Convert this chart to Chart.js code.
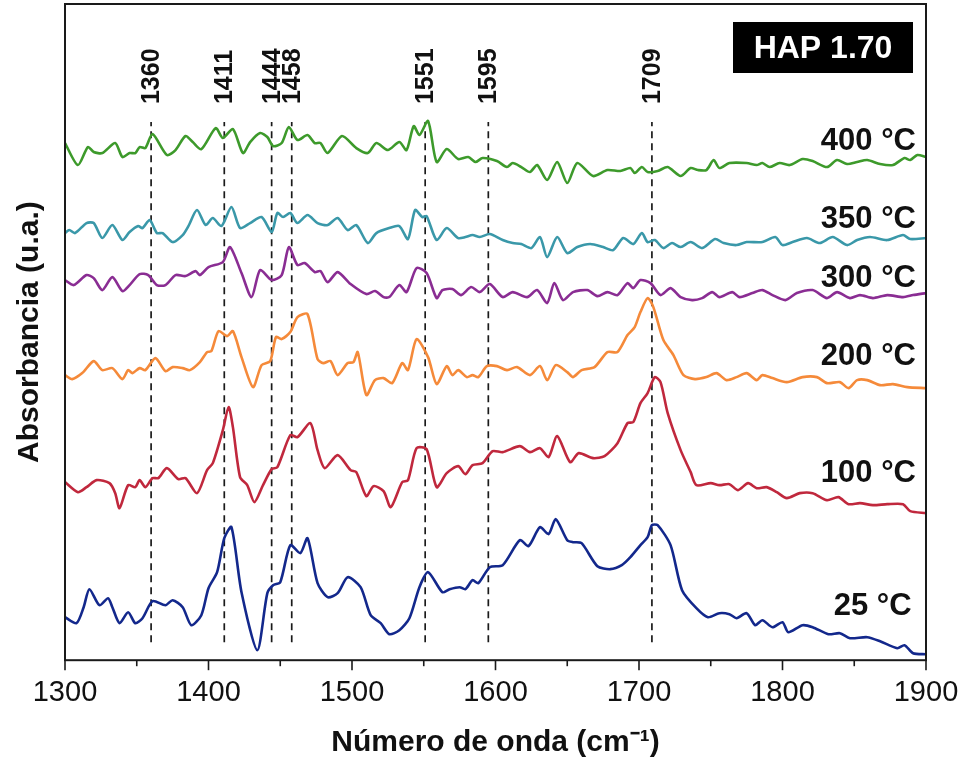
<!DOCTYPE html>
<html>
<head>
<meta charset="utf-8">
<script src="https://cdn.jsdelivr.net/npm/chart.js@4.4.1/dist/chart.umd.min.js"></script>
<style>
  html, body { margin: 0; padding: 0; background: #fff; }
  #wrap { width: 965px; height: 761px; }
</style>
</head>
<body>
<div id="wrap"><canvas id="spec" width="965" height="761" role="img" aria-label="Espectros FTIR de HAP 1.70 a 25, 100, 200, 300, 350 y 400 °C entre 1300 y 1900 cm-1"></canvas></div>
<script>
// wavenumber (cm-1) / absorbance (u.a., stacked offsets)
const wn400 = [1300,1309,1316,1320,1326,1335,1340,1345,1349,1352,1356,1361,1371,1377,1384,1389,1395,1405,1410,1417,1424,1429,1436,1441,1445,1451,1456,1462,1469,1474,1478,1483,1493,1503,1511,1517,1525,1533,1538,1543,1547,1553,1559,1566,1574,1581,1586,1591,1601,1608,1612,1618,1624,1629,1636,1643,1650,1657,1668,1678,1687,1694,1697,1702,1706,1713,1720,1729,1736,1741,1747,1752,1756,1763,1775,1782,1786,1791,1798,1805,1814,1821,1831,1838,1845,1852,1859,1868,1877,1885,1889,1894,1900]
const abs400 = [5.17,4.95,5.13,5.08,5.07,5.17,5.03,5.07,5.07,5.13,5.12,5.26,5.05,5.10,5.24,5.18,5.11,5.32,5.22,5.31,5.07,5.18,5.27,5.23,5.14,5.17,5.33,5.20,5.25,5.17,5.17,5.07,5.24,5.12,5.07,5.17,5.10,5.18,5.10,5.34,5.25,5.39,4.98,5.11,5.01,5.03,4.98,5.02,4.99,4.93,4.97,4.93,4.88,4.95,4.80,4.98,4.77,4.97,4.84,4.90,4.89,4.92,4.87,4.93,4.88,4.89,4.93,4.84,4.92,4.90,4.90,5.00,4.92,4.97,4.97,4.95,4.97,4.93,4.97,4.95,5.01,4.99,4.93,5.00,4.96,4.98,5.00,4.96,4.95,5.02,5.00,5.05,5.03]

const wn350 = [1300,1303,1307,1315,1320,1326,1333,1340,1345,1351,1354,1359,1364,1368,1375,1382,1386,1392,1398,1403,1409,1416,1422,1429,1437,1444,1448,1452,1457,1462,1469,1476,1483,1490,1497,1503,1511,1517,1526,1533,1539,1544,1549,1552,1559,1566,1574,1579,1584,1589,1596,1605,1612,1618,1625,1631,1636,1643,1650,1657,1666,1675,1682,1689,1696,1702,1706,1711,1717,1723,1729,1736,1744,1753,1759,1768,1775,1786,1795,1800,1807,1817,1826,1835,1845,1852,1861,1873,1884,1889,1900]
const abs350 = [4.27,4.30,4.27,4.37,4.37,4.22,4.35,4.20,4.28,4.34,4.32,4.40,4.27,4.27,4.18,4.25,4.34,4.50,4.35,4.42,4.34,4.53,4.32,4.37,4.43,4.28,4.47,4.43,4.47,4.37,4.45,4.37,4.35,4.42,4.30,4.35,4.17,4.27,4.32,4.34,4.21,4.50,4.43,4.44,4.20,4.32,4.22,4.23,4.25,4.23,4.26,4.20,4.17,4.16,4.12,4.23,4.03,4.23,4.07,4.13,4.16,4.13,4.10,4.22,4.16,4.27,4.18,4.20,4.12,4.17,4.13,4.18,4.12,4.21,4.17,4.15,4.18,4.18,4.23,4.15,4.18,4.22,4.17,4.23,4.15,4.20,4.23,4.20,4.25,4.21,4.22]

const wn300 = [1300,1306,1315,1320,1326,1333,1340,1345,1352,1358,1364,1370,1377,1384,1391,1394,1400,1410,1415,1423,1430,1436,1444,1451,1456,1462,1467,1474,1478,1483,1490,1499,1510,1516,1522,1526,1533,1538,1545,1552,1559,1563,1570,1576,1583,1589,1596,1605,1612,1622,1629,1636,1641,1647,1654,1664,1671,1678,1685,1692,1696,1701,1708,1715,1722,1729,1737,1744,1751,1756,1765,1770,1779,1786,1793,1802,1810,1821,1831,1838,1847,1854,1863,1873,1884,1891,1900]
const abs300 = [3.80,3.75,3.85,3.82,3.70,3.83,3.69,3.75,3.86,3.85,3.75,3.75,3.85,3.84,3.89,3.85,3.93,3.98,4.13,3.87,3.63,3.90,3.80,3.85,4.13,3.95,3.97,3.88,3.89,3.78,3.88,3.76,3.66,3.69,3.63,3.63,3.75,3.68,3.92,3.87,3.62,3.70,3.71,3.65,3.73,3.68,3.76,3.63,3.68,3.63,3.70,3.57,3.77,3.60,3.68,3.70,3.64,3.68,3.65,3.77,3.72,3.80,3.77,3.65,3.72,3.63,3.60,3.62,3.68,3.63,3.68,3.63,3.67,3.70,3.65,3.60,3.67,3.70,3.62,3.68,3.62,3.65,3.62,3.65,3.63,3.65,3.67]

const wn200 = [1300,1305,1312,1320,1326,1333,1340,1344,1347,1352,1356,1363,1370,1375,1382,1387,1394,1399,1402,1407,1413,1417,1423,1431,1437,1443,1447,1451,1457,1462,1469,1476,1480,1485,1490,1497,1501,1504,1510,1516,1522,1528,1535,1539,1545,1553,1559,1566,1570,1574,1580,1584,1588,1594,1601,1608,1615,1624,1631,1636,1642,1650,1654,1660,1669,1678,1685,1692,1697,1701,1706,1710,1717,1724,1731,1739,1747,1754,1761,1768,1775,1782,1786,1793,1803,1814,1824,1831,1840,1846,1852,1859,1868,1877,1887,1900]
const abs200 = [2.85,2.81,2.87,2.99,2.90,2.92,2.81,2.90,2.87,2.92,2.90,3.02,2.89,2.93,2.92,2.90,2.98,3.08,3.09,3.29,3.24,3.29,3.03,2.73,2.95,2.99,3.23,3.21,3.28,3.43,3.46,3.01,2.97,2.99,2.85,2.97,2.98,3.08,2.65,2.80,2.82,2.77,2.97,2.90,3.21,3.03,2.76,2.94,2.85,2.90,2.83,2.85,2.83,2.94,2.94,2.90,2.93,2.85,2.94,2.80,2.95,2.88,2.83,2.90,2.93,3.08,3.08,3.25,3.33,3.48,3.62,3.53,3.20,3.05,2.85,2.81,2.83,2.87,2.80,2.83,2.87,2.80,2.85,2.82,2.78,2.83,2.83,2.77,2.78,2.72,2.80,2.80,2.75,2.76,2.73,2.72]

const wn100 = [1300,1309,1315,1322,1331,1335,1338,1344,1349,1352,1356,1361,1365,1371,1379,1384,1392,1399,1403,1410,1414,1417,1422,1427,1432,1438,1444,1448,1457,1462,1471,1476,1481,1490,1499,1503,1510,1515,1522,1527,1535,1539,1545,1552,1559,1566,1574,1579,1584,1591,1598,1605,1617,1624,1631,1637,1643,1652,1658,1668,1676,1685,1692,1696,1701,1706,1711,1715,1720,1729,1736,1740,1750,1756,1763,1769,1776,1782,1789,1796,1803,1812,1821,1831,1839,1846,1854,1863,1873,1884,1889,1900]
const abs100 = [1.78,1.68,1.73,1.80,1.77,1.67,1.52,1.75,1.73,1.80,1.73,1.82,1.82,1.92,1.81,1.82,1.67,1.90,1.97,2.30,2.53,2.33,1.83,1.75,1.58,1.75,1.91,1.93,2.25,2.23,2.37,2.10,1.92,2.05,1.90,1.88,1.64,1.74,1.69,1.53,1.78,1.80,2.12,2.11,1.73,1.87,1.94,1.86,1.95,1.97,2.09,2.08,2.14,2.08,2.12,2.03,2.24,1.98,2.07,2.02,2.04,2.17,2.37,2.38,2.57,2.67,2.83,2.78,2.47,2.10,1.88,1.75,1.77,1.75,1.76,1.70,1.77,1.72,1.73,1.68,1.62,1.67,1.67,1.60,1.63,1.56,1.57,1.55,1.56,1.56,1.49,1.47]

const wn25 = [1300,1308,1313,1317,1324,1330,1333,1338,1344,1349,1354,1361,1370,1375,1382,1388,1395,1400,1406,1411,1416,1423,1434,1441,1445,1450,1457,1464,1469,1476,1483,1490,1497,1506,1513,1520,1526,1533,1540,1547,1553,1563,1568,1575,1579,1584,1588,1596,1605,1617,1623,1631,1637,1642,1650,1654,1660,1671,1680,1688,1694,1701,1706,1709,1713,1722,1730,1740,1748,1756,1763,1768,1775,1781,1786,1793,1800,1804,1814,1821,1832,1840,1847,1859,1868,1880,1885,1891,1900]
const abs25 = [0.43,0.37,0.53,0.71,0.55,0.62,0.53,0.37,0.48,0.37,0.42,0.59,0.55,0.60,0.53,0.35,0.45,0.72,0.88,1.22,1.33,0.68,0.10,0.67,0.75,0.78,1.15,1.07,1.22,0.77,0.63,0.67,0.83,0.73,0.45,0.37,0.26,0.30,0.42,0.73,0.88,0.68,0.71,0.73,0.71,0.80,0.77,0.93,0.95,1.20,1.14,1.33,1.26,1.41,1.20,1.18,1.17,0.94,0.91,0.95,1.03,1.15,1.23,1.35,1.35,1.15,0.70,0.52,0.43,0.47,0.46,0.42,0.47,0.35,0.40,0.33,0.38,0.28,0.35,0.33,0.26,0.27,0.22,0.23,0.19,0.12,0.15,0.07,0.06]

const seriesNames = ['400 °C', '350 °C', '300 °C', '200 °C', '100 °C', '25 °C']
const seriesColors = ['#3d9a2b', '#3a98a9', '#8a2d93', '#f58a3a', '#c0283d', '#13288c']
const seriesWn = [wn400, wn350, wn300, wn200, wn100, wn25]
const seriesAbs = [abs400, abs350, abs300, abs200, abs100, abs25]

// assigned band positions (cm-1)
const peaks = [1360, 1411, 1444, 1458, 1551, 1595, 1709]
const peakSpan = [0.18, 5.38]

const FONT = "'Liberation Sans', Arial, Helvetica, sans-serif"

const datasets = seriesNames.map((name, i) => ({
  label: name,
  data: seriesWn[i].map((w, k) => ({ x: w, y: seriesAbs[i][k] })),
  borderColor: seriesColors[i],
  borderWidth: 2.6,
  pointRadius: 0,
  tension: 0.25,
  order: 1
}))

peaks.forEach(p => datasets.push({
  label: 'pico ' + p,
  data: [{ x: p, y: peakSpan[0] }, { x: p, y: peakSpan[1] }],
  borderColor: '#1a1a1a',
  borderWidth: 1.7,
  borderDash: [7, 5],
  pointRadius: 0,
  order: 5
}))

// series label anchors: [wavenumber of right edge, absorbance of baseline]
const labelAnchors = [[1893, 5.10], [1893, 4.32], [1893, 3.73], [1893, 2.95], [1893, 1.78], [1890, 0.45]]

const decor = {
  id: 'decor',
  afterDatasetsDraw(chart) {
    const { ctx, chartArea: a, scales: { x, y } } = chart
    ctx.save()
    // frame
    ctx.strokeStyle = '#1a1a1a'
    ctx.lineWidth = 2
    ctx.strokeRect(a.left, a.top, a.right - a.left, a.bottom - a.top)
    // outward ticks, minor every 50
    ctx.lineWidth = 1.6
    for (let v = 1300; v <= 1900; v += 50) {
      const px = x.getPixelForValue(v)
      ctx.beginPath()
      ctx.moveTo(px, a.bottom)
      ctx.lineTo(px, a.bottom + (v % 100 ? 6 : 10))
      ctx.stroke()
    }
    // peak labels
    ctx.fillStyle = '#111'
    ctx.font = 'bold 25px ' + FONT
    ctx.textAlign = 'left'
    ctx.textBaseline = 'middle'
    peaks.forEach(p => {
      ctx.save()
      ctx.translate(x.getPixelForValue(p), y.getPixelForValue(peakSpan[1]) - 18)
      ctx.rotate(-Math.PI / 2)
      ctx.fillText(String(p), 0, 1)
      ctx.restore()
    })
    // series labels
    ctx.font = 'bold 31px ' + FONT
    ctx.textAlign = 'right'
    ctx.textBaseline = 'alphabetic'
    seriesNames.forEach((n, i) => {
      ctx.fillText(n, x.getPixelForValue(labelAnchors[i][0]), y.getPixelForValue(labelAnchors[i][1]))
    })
    // sample tag
    ctx.fillStyle = '#000'
    ctx.fillRect(733, 22, 180, 51)
    ctx.fillStyle = '#fff'
    ctx.font = 'bold 32px ' + FONT
    ctx.textAlign = 'center'
    ctx.textBaseline = 'middle'
    ctx.fillText('HAP 1.70', 823, 49)
    ctx.restore()
  }
}

new Chart(document.getElementById('spec'), {
  type: 'line',
  data: { datasets },
  options: {
    responsive: false,
    animation: false,
    devicePixelRatio: 1,
    layout: { padding: { left: 8, right: 39, top: 4, bottom: 0 } },
    plugins: { legend: { display: false }, tooltip: { enabled: false } },
    scales: {
      x: {
        type: 'linear',
        min: 1300,
        max: 1900,
        grid: { display: false, drawTicks: false },
        border: { display: false },
        ticks: { stepSize: 100, padding: 15, color: '#111', font: { family: FONT, size: 29 }, callback: v => String(v) },
        title: { display: true, text: 'Número de onda (cm⁻¹)', color: '#111', padding: { top: 0, bottom: 0 }, font: { family: FONT, size: 30, weight: 'bold' } },
        // the outer tick labels fit inside the layout padding already
        afterFit: s => { s.paddingLeft = 0; s.paddingRight = 0 }
      },
      y: {
        min: 0,
        max: 6.56,
        grid: { display: false, drawTicks: false },
        border: { display: false },
        ticks: { display: false },
        title: { display: true, text: 'Absorbancia (u.a.)', color: '#111', padding: { top: 4, bottom: 17 }, font: { family: FONT, size: 30, weight: 'bold' } }
      }
    }
  },
  plugins: [decor]
})
</script>
</body>
</html>
